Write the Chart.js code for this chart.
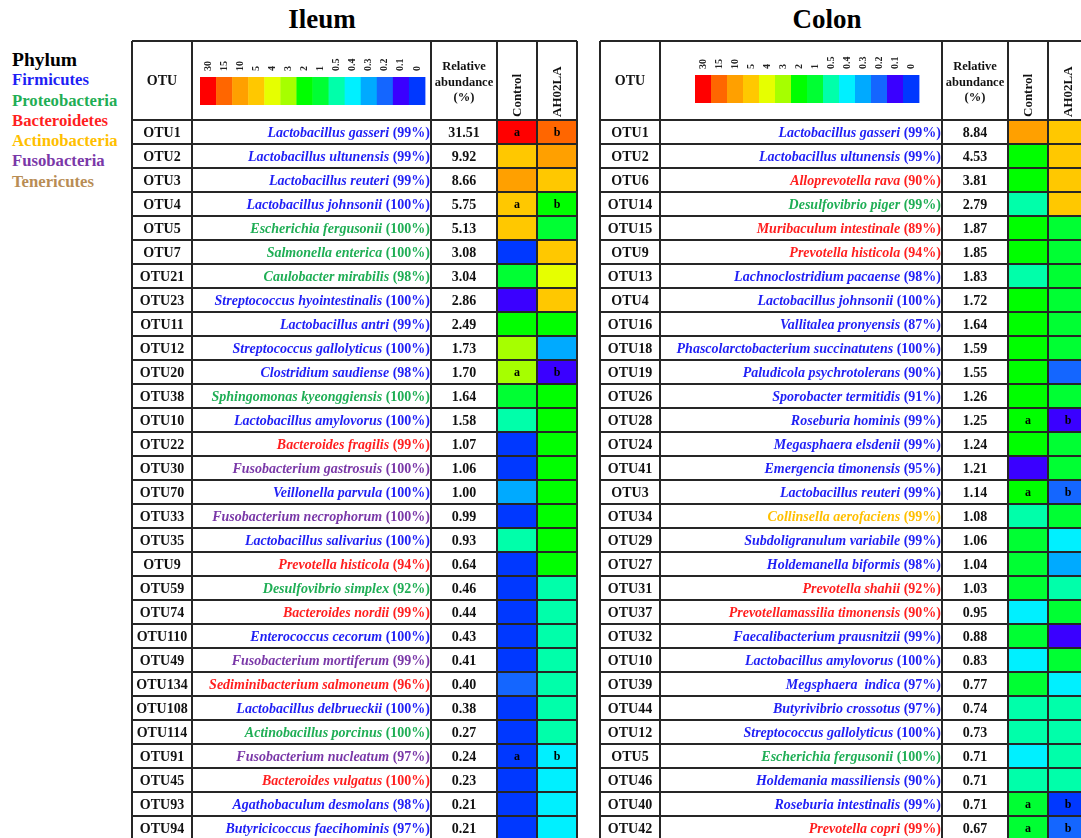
<!DOCTYPE html>
<html>
<head>
<meta charset="utf-8">
<script src="https://cdn.jsdelivr.net/npm/chart.js@4.4.1/dist/chart.umd.min.js"></script>
<style>
  html, body { margin: 0; padding: 0; background: #fff; width: 1081px; height: 838px; overflow: hidden; position: relative;
    font-family: "Liberation Serif", "Times New Roman", serif; }
  .title { position: absolute; top: 2px; width: 140px; font-weight: bold; font-size: 27px; line-height: 34px; text-align: center; color: #000; }
  #phylum { position: absolute; left: 12px; top: 50px; font-weight: bold; font-size: 16.7px; line-height: 20.3px; white-space: nowrap; }
  #phylum .head { font-size: 19.5px; color: #000; }
  canvas { position: absolute; top: 0; }
</style>
</head>
<body>
<div class="title" style="left:252px">Ileum</div>
<div class="title" style="left:757px">Colon</div>
<div id="phylum"></div>
<canvas id="ileum"></canvas>
<canvas id="colon"></canvas>
<script>
// ---- colour scale (relative abundance, %) ----
const scaleLabels = ['30', '15', '10', '5', '4', '3', '2', '1', '0.5', '0.4', '0.3', '0.2', '0.1', '0'];
const scaleColors = ['#ff0000', '#ff6600', '#ffa000', '#ffc800', '#e6ff00', '#a6ff00', '#00ff00',
                     '#00ff33', '#00ffaa', '#00f0ff', '#00aaff', '#1466ff', '#3a00ff', '#0038ff'];

// ---- phyla ----
const phyla = ['Firmicutes', 'Proteobacteria', 'Bacteroidetes', 'Actinobacteria', 'Fusobacteria', 'Tenericutes'];
const phylumColors = ['#1f1ff5', '#1fae55', '#ff1f1f', '#ffbf00', '#7a38a8', '#b88d55'];

// ---- Ileum ----
const ileumOtu = ['OTU1', 'OTU2', 'OTU3', 'OTU4', 'OTU5', 'OTU7', 'OTU21', 'OTU23', 'OTU11', 'OTU12',
  'OTU20', 'OTU38', 'OTU10', 'OTU22', 'OTU30', 'OTU70', 'OTU33', 'OTU35', 'OTU9', 'OTU59',
  'OTU74', 'OTU110', 'OTU49', 'OTU134', 'OTU108', 'OTU114', 'OTU91', 'OTU45', 'OTU93', 'OTU94'];
const ileumSpecies = ['Lactobacillus gasseri', 'Lactobacillus ultunensis', 'Lactobacillus reuteri',
  'Lactobacillus johnsonii', 'Escherichia fergusonii', 'Salmonella enterica', 'Caulobacter mirabilis',
  'Streptococcus hyointestinalis', 'Lactobacillus antri', 'Streptococcus gallolyticus',
  'Clostridium saudiense', 'Sphingomonas kyeonggiensis', 'Lactobacillus amylovorus', 'Bacteroides fragilis',
  'Fusobacterium gastrosuis', 'Veillonella parvula', 'Fusobacterium necrophorum', 'Lactobacillus salivarius',
  'Prevotella histicola', 'Desulfovibrio simplex', 'Bacteroides nordii', 'Enterococcus cecorum',
  'Fusobacterium mortiferum', 'Sediminibacterium salmoneum', 'Lactobacillus delbrueckii',
  'Actinobacillus porcinus', 'Fusobacterium nucleatum', 'Bacteroides vulgatus', 'Agathobaculum desmolans',
  'Butyricicoccus faecihominis'];
const ileumIdentity = [99, 99, 99, 100, 100, 100, 98, 100, 99, 100, 98, 100, 100, 99, 100, 100, 100, 100,
  94, 92, 99, 100, 99, 96, 100, 100, 97, 100, 98, 97];
const ileumPhylum = ['Firmicutes', 'Firmicutes', 'Firmicutes', 'Firmicutes', 'Proteobacteria', 'Proteobacteria',
  'Proteobacteria', 'Firmicutes', 'Firmicutes', 'Firmicutes', 'Firmicutes', 'Proteobacteria', 'Firmicutes',
  'Bacteroidetes', 'Fusobacteria', 'Firmicutes', 'Fusobacteria', 'Firmicutes', 'Bacteroidetes', 'Proteobacteria',
  'Bacteroidetes', 'Firmicutes', 'Fusobacteria', 'Bacteroidetes', 'Firmicutes', 'Proteobacteria', 'Fusobacteria',
  'Bacteroidetes', 'Firmicutes', 'Firmicutes'];
const ileumAbundance = [31.51, 9.92, 8.66, 5.75, 5.13, 3.08, 3.04, 2.86, 2.49, 1.73, 1.70, 1.64, 1.58, 1.07,
  1.06, 1.00, 0.99, 0.93, 0.64, 0.46, 0.44, 0.43, 0.41, 0.40, 0.38, 0.27, 0.24, 0.23, 0.21, 0.21];
const ileumControl = ['30', '5', '10', '5', '5', '0', '1', '0.1', '2', '3', '3', '1', '0.5', '0', '0',
  '0.3', '0', '0.5', '0', '0', '0', '0', '0', '0.2', '0', '0', '0', '0', '0', '0'];
const ileumAH02LA = ['15', '10', '5', '2', '1', '5', '4', '5', '2', '0.3', '0.1', '2', '2', '2', '2',
  '2', '2', '2', '2', '0.5', '0.5', '0.5', '0.5', '0.5', '0.5', '0.5', '0.4', '0.4', '0.4', '0.4'];
const ileumSignificant = ['OTU1', 'OTU4', 'OTU20', 'OTU91'];

// ---- Colon ----
const colonOtu = ['OTU1', 'OTU2', 'OTU6', 'OTU14', 'OTU15', 'OTU9', 'OTU13', 'OTU4', 'OTU16', 'OTU18',
  'OTU19', 'OTU26', 'OTU28', 'OTU24', 'OTU41', 'OTU3', 'OTU34', 'OTU29', 'OTU27', 'OTU31',
  'OTU37', 'OTU32', 'OTU10', 'OTU39', 'OTU44', 'OTU12', 'OTU5', 'OTU46', 'OTU40', 'OTU42'];
const colonSpecies = ['Lactobacillus gasseri', 'Lactobacillus ultunensis', 'Alloprevotella rava',
  'Desulfovibrio piger', 'Muribaculum intestinale', 'Prevotella histicola', 'Lachnoclostridium pacaense',
  'Lactobacillus johnsonii', 'Vallitalea pronyensis', 'Phascolarctobacterium succinatutens',
  'Paludicola psychrotolerans', 'Sporobacter termitidis', 'Roseburia hominis', 'Megasphaera elsdenii',
  'Emergencia timonensis', 'Lactobacillus reuteri', 'Collinsella aerofaciens', 'Subdoligranulum variabile',
  'Holdemanella biformis', 'Prevotella shahii', 'Prevotellamassilia timonensis', 'Faecalibacterium prausnitzii',
  'Lactobacillus amylovorus', 'Megsphaera  indica', 'Butyrivibrio crossotus', 'Streptococcus gallolyticus',
  'Escherichia fergusonii', 'Holdemania massiliensis', 'Roseburia intestinalis', 'Prevotella copri'];
const colonIdentity = [99, 99, 90, 99, 89, 94, 98, 100, 87, 100, 90, 91, 99, 99, 95, 99, 99, 99, 98, 92,
  90, 99, 100, 97, 97, 100, 100, 90, 99, 99];
const colonPhylum = ['Firmicutes', 'Firmicutes', 'Bacteroidetes', 'Proteobacteria', 'Bacteroidetes',
  'Bacteroidetes', 'Firmicutes', 'Firmicutes', 'Firmicutes', 'Firmicutes', 'Firmicutes', 'Firmicutes',
  'Firmicutes', 'Firmicutes', 'Firmicutes', 'Firmicutes', 'Actinobacteria', 'Firmicutes', 'Firmicutes',
  'Bacteroidetes', 'Bacteroidetes', 'Firmicutes', 'Firmicutes', 'Firmicutes', 'Firmicutes', 'Firmicutes',
  'Proteobacteria', 'Firmicutes', 'Firmicutes', 'Bacteroidetes'];
const colonAbundance = [8.84, 4.53, 3.81, 2.79, 1.87, 1.85, 1.83, 1.72, 1.64, 1.59, 1.55, 1.26, 1.25, 1.24,
  1.21, 1.14, 1.08, 1.06, 1.04, 1.03, 0.95, 0.88, 0.83, 0.77, 0.74, 0.73, 0.71, 0.71, 0.71, 0.67];
const colonControl = ['10', '2', '2', '0.5', '2', '2', '0.5', '2', '2', '2', '2', '2', '2', '2', '0.1',
  '2', '0.5', '1', '1', '1', '0.4', '1', '0.4', '1', '0.5', '0.5', '0.4', '0.5', '1', '1'];
const colonAH02LA = ['5', '5', '5', '5', '1', '1', '1', '1', '1', '1', '0.2', '1', '0.1', '1', '1',
  '0.2', '1', '0.4', '0.3', '0.5', '1', '0.1', '1', '0.4', '0.5', '0.5', '0.5', '0.5', '0', '0.2'];
const colonSignificant = ['OTU28', 'OTU3', 'OTU40', 'OTU42'];

// ---- phylum key ----
const key = document.getElementById('phylum');
key.innerHTML = '<div class="head">Phylum</div>' +
  phyla.map((p, i) => `<div style="color:${phylumColors[i]}">${p}</div>`).join('');

const levelColor = lv => scaleColors[scaleLabels.indexOf(lv)];
const phylumColor = p => phylumColors[phyla.indexOf(p)];
const FONT = '"Liberation Serif", "Times New Roman", serif';

// Draws the table text, header, colour key and ruling around the heat cells
const tablePlugin = {
  id: 'otuTable',
  afterDatasetsDraw(chart, args, o) {
    const { ctx, chartArea: a, scales: { x, y } } = chart;
    const L = o.layout, R = o.rows;
    const n = R.otu.length;
    const x0 = L.pad, xOtu = x0 + L.otuW, xSp = xOtu + L.speciesW, xAb = a.left;
    const xMid = x.getPixelForValue(1);
    const band = y.getPixelForValue(1) - y.getPixelForValue(0);
    const top = L.tableTop, bottom = chart.height;
    ctx.save();
    ctx.textBaseline = 'middle';

    // significance letters
    ctx.fillStyle = '#000';
    ctx.font = `bold 12px ${FONT}`;
    ctx.textAlign = 'center';
    R.otu.forEach((id, i) => {
      if (!R.sig.includes(id)) return;
      const cy = y.getPixelForValue(i) + 1;
      ctx.fillText('a', (xAb + xMid) / 2, cy);
      ctx.fillText('b', (xMid + a.right) / 2, cy);
    });

    // rows
    R.otu.forEach((id, i) => {
      const cy = y.getPixelForValue(i) + 1;
      ctx.fillStyle = '#111';
      ctx.font = `bold 14px ${FONT}`;
      ctx.textAlign = 'center';
      ctx.fillText(id, (x0 + xOtu) / 2, cy);
      ctx.fillText(R.abundance[i].toFixed(2), (xSp + xAb) / 2, cy);
      // species name (italic) followed by identity
      ctx.fillStyle = phylumColor(R.phylum[i]);
      ctx.textAlign = 'right';
      const idText = `(${R.identity[i]}%)`;
      const xr = xSp - 1;
      ctx.font = `bold 14px ${FONT}`;
      ctx.fillText(idText, xr, cy);
      const w = ctx.measureText(idText).width + ctx.measureText(' ').width;
      ctx.font = `italic bold 14px ${FONT}`;
      ctx.fillText(R.species[i], xr - w, cy);
    });

    // header
    ctx.fillStyle = '#111';
    ctx.textAlign = 'center';
    ctx.font = `bold 14px ${FONT}`;
    ctx.fillText('OTU', (x0 + xOtu) / 2, 81);
    ctx.font = `bold 12.5px ${FONT}`;
    ['Relative', 'abundance', '(%)'].forEach((t, k) => ctx.fillText(t, (xSp + xAb) / 2, 67 + k * 15.5));
    ctx.font = `bold 13px ${FONT}`;
    ctx.textAlign = 'left';
    [['Control', (xAb + xMid) / 2], ['AH02LA', (xMid + a.right) / 2]].forEach(([t, cx]) => {
      ctx.save();
      ctx.translate(cx + 1, 117);
      ctx.rotate(-Math.PI / 2);
      ctx.fillText(t, 0, 0);
      ctx.restore();
    });

    // colour key
    const bw = L.barW / scaleLabels.length;
    const bx = xOtu + L.barX;
    scaleLabels.forEach((lab, k) => {
      ctx.fillStyle = scaleColors[k];
      ctx.fillRect(bx + k * bw, L.barY, bw + 0.4, 28);
      ctx.save();
      ctx.fillStyle = '#222';
      ctx.font = `bold 10px ${FONT}`;
      ctx.translate(bx + (k + 0.5) * bw, L.barY - 6);
      ctx.rotate(-Math.PI / 2);
      ctx.textAlign = 'left';
      ctx.fillText(lab, 0, 0);
      ctx.restore();
    });

    // ruling
    ctx.strokeStyle = '#262626';
    ctx.lineWidth = 2;
    ctx.beginPath();
    const hl = yy => { ctx.moveTo(x0, yy); ctx.lineTo(a.right, yy); };
    hl(top);
    for (let i = 0; i < n; i++) hl(y.getPixelForValue(i) - band / 2);
    hl(y.getPixelForValue(n - 1) + band / 2);
    [x0, xOtu, xSp, xAb, xMid, a.right].forEach(xx => { ctx.moveTo(xx, top); ctx.lineTo(xx, bottom); });
    ctx.stroke();
    ctx.restore();
  }
};

function buildTable(id, layout, rows) {
  const canvas = document.getElementById(id);
  const textW = layout.pad + layout.otuW + layout.speciesW + layout.abundW;
  canvas.width = textW + 2 * layout.cellW + 3;
  canvas.height = 845;
  canvas.style.left = (layout.left - layout.pad) + 'px';
  const cell = (levels, from, to, label) => ({
    label,
    data: levels.map(() => [from, to]),
    backgroundColor: levels.map(levelColor),
    borderWidth: 0,
    barPercentage: 1,
    categoryPercentage: 1,
    grouped: false
  });
  return new Chart(canvas, {
    type: 'bar',
    data: {
      labels: rows.otu,
      datasets: [cell(rows.control, 0, 1, 'Control'), cell(rows.treated, 1, 2, 'AH02LA')]
    },
    options: {
      indexAxis: 'y',
      responsive: false,
      animation: false,
      devicePixelRatio: 1,
      layout: { padding: { left: textW, right: 3, top: 120, bottom: 5 } },
      scales: {
        x: { type: 'linear', min: 0, max: 2, display: false },
        y: { type: 'category', display: false, offset: true }
      },
      plugins: {
        legend: { display: false },
        tooltip: { enabled: false },
        otuTable: { layout, rows }
      }
    },
    plugins: [tablePlugin]
  });
}

buildTable('ileum',
  { left: 132, pad: 2, otuW: 60, speciesW: 239, abundW: 66, cellW: 40, tableTop: 41, barX: 8, barW: 225, barY: 77 },
  { otu: ileumOtu, species: ileumSpecies, identity: ileumIdentity, phylum: ileumPhylum,
    abundance: ileumAbundance, control: ileumControl, treated: ileumAH02LA, sig: ileumSignificant });

buildTable('colon',
  { left: 600, pad: 2, otuW: 60, speciesW: 282, abundW: 66, cellW: 40, tableTop: 41, barX: 35, barW: 224, barY: 75 },
  { otu: colonOtu, species: colonSpecies, identity: colonIdentity, phylum: colonPhylum,
    abundance: colonAbundance, control: colonControl, treated: colonAH02LA, sig: colonSignificant });
</script>
</body>
</html>
